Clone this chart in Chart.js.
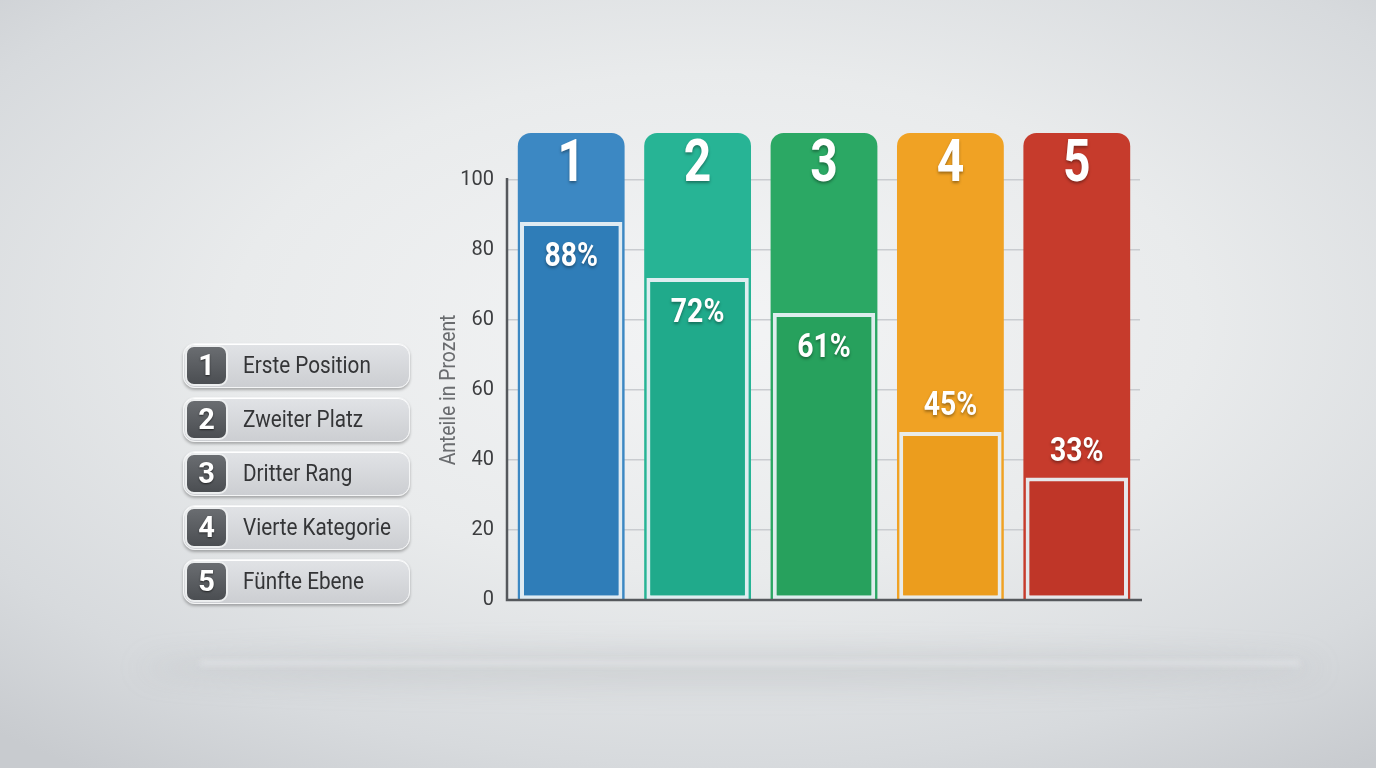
<!DOCTYPE html>
<html>
<head>
<meta charset="utf-8">
<script src="https://cdn.jsdelivr.net/npm/chart.js@4.4.1/dist/chart.umd.min.js"></script>
<style>
  html, body { margin: 0; padding: 0; }
  body {
    width: 1376px; height: 768px; overflow: hidden; position: relative;
    background: radial-gradient(ellipse 78% 72% at 52% 42%, #f3f4f5 0%, #e9ebec 45%, #d7dadd 80%, #c8cbcf 100%);
    font-family: 'Roboto', sans-serif;
  }
  .floor {
    position: absolute; left: 140px; top: 650px; width: 1180px; height: 36px;
    background: rgba(150,155,160,0.22); filter: blur(14px); border-radius: 50%;
  }
  .floorline {
    position: absolute; left: 200px; top: 661px; width: 1100px; height: 4px;
    background: rgba(248,249,250,0.45); filter: blur(3px);
  }
  #chart { position: absolute; left: 0; top: 0; }
  #legend { position: absolute; left: 183px; top: 343px; }
  .item {
    position: relative; width: 227px; height: 45px; margin-bottom: 9px; box-sizing: border-box;
    border-radius: 12px; border: 1px solid #f4f5f6;
    background: linear-gradient(#e1e3e6, #ccced2);
    box-shadow: 0 2px 3px rgba(0,0,0,0.28), inset 0 1px 0 #ffffff;
  }
  .num {
    position: absolute; left: 1px; top: 1px; width: 43px; height: 41px; box-sizing: border-box;
    border-radius: 9px; border: 2px solid #eceeef;
    background: linear-gradient(#6a6d71, #4b4e52);
    color: #fff; font-weight: bold; font-size: 29px; line-height: 37px; text-align: center;
    text-shadow: 0 1px 2px rgba(0,0,0,0.6);
  }
  .txt {
    position: absolute; left: 59px; top: 0; line-height: 43px; white-space: nowrap;
    font-size: 23px; color: #343537; transform: scaleX(0.9); transform-origin: left center;
  }
</style>
</head>
<body>
<div class="floor"></div>
<div class="floorline"></div>
<canvas id="chart" width="1376" height="768"></canvas>
<div id="legend"></div>
<script>
// categories and printed values
const categories = ['Erste Position', 'Zweiter Platz', 'Dritter Rang', 'Vierte Kategorie', 'Fünfte Ebene'];
const ranks = ['1', '2', '3', '4', '5'];
const shareLabels = [88, 72, 61, 45, 33];
// bar heights as drawn against the gridlines (one grid step = 20)
const barHeights = [108, 92, 82, 48, 35];
// printed tick labels, bottom to top
const tickValues = [0, 20, 40, 60, 80, 100, 120];
const tickLabels = ['0', '20', '40', '60', '60', '80', '100'];
const columnTop = 133.4;

const columnColors = ['#3c88c3', '#27b495', '#2ba864', '#f0a224', '#c63b2c'];
const innerColors = ['#2f7db8', '#20aa8b', '#27a15d', '#ec9d1d', '#bf3628'];

// left legend
const legend = document.getElementById('legend');
categories.forEach((name, i) => {
    const item = document.createElement('div');
    item.className = 'item';
    item.innerHTML = '<div class="num">' + ranks[i] + '</div><div class="txt">' + name + '</div>';
    legend.appendChild(item);
});

// condensed text on canvas: squeeze horizontally around (x, y)
function narrowText(ctx, text, x, y, font, squeeze) {
    ctx.save();
    ctx.font = font;
    ctx.translate(x, y);
    ctx.scale(squeeze, 1);
    ctx.fillText(text, 0, 0);
    ctx.restore();
}

// numbers on the columns, percentages on the bars, axis lines and title
const barLabels = {
    id: 'barLabels',
    afterDatasetsDraw(chart) {
        const ctx = chart.ctx;
        const cols = chart.getDatasetMeta(0).data;
        const bars = chart.getDatasetMeta(1).data;
        const area = chart.chartArea;
        const yScale = chart.scales.y;
        const top = yScale.getPixelForValue(tickValues[tickValues.length - 1]);
        const bottom = yScale.getPixelForValue(0);

        ctx.save();
        ctx.strokeStyle = '#55585c';
        ctx.lineWidth = 2.5;
        ctx.beginPath();
        ctx.moveTo(area.left - 1, top - 2);
        ctx.lineTo(area.left - 1, bottom);
        ctx.lineTo(area.right + 2, bottom);
        ctx.stroke();
        ctx.restore();

        ctx.save();
        ctx.textAlign = 'center';
        ctx.textBaseline = 'middle';
        ctx.fillStyle = '#ffffff';
        ctx.shadowColor = 'rgba(0,0,0,0.35)';
        ctx.shadowBlur = 3;
        ctx.shadowOffsetY = 2;
        cols.forEach((c, i) => {
            narrowText(ctx, ranks[i], c.x, area.top + 33, "bold 60px 'Roboto', sans-serif", 0.8);
        });
        bars.forEach((b, i) => {
            const y = shareLabels[i] >= 50 ? b.y + 36 : b.y - 25;
            narrowText(ctx, shareLabels[i] + '%', b.x, y, "bold 33px 'Roboto', sans-serif", 0.86);
        });
        ctx.restore();

        // axis title, centred on the ticked range
        ctx.save();
        ctx.fillStyle = '#6a6c6f';
        ctx.textAlign = 'center';
        ctx.textBaseline = 'middle';
        ctx.translate(449, (top + bottom) / 2);
        ctx.rotate(-Math.PI / 2);
        ctx.scale(0.88, 1);
        ctx.font = "22px 'Roboto', sans-serif";
        ctx.fillText('Anteile in Prozent', 0, 0);
        ctx.restore();
    }
};

new Chart(document.getElementById('chart'), {
    type: 'bar',
    data: {
        labels: categories,
        datasets: [
            {
                data: categories.map(() => columnTop),
                backgroundColor: columnColors,
                borderRadius: { topLeft: 13, topRight: 13 },
                borderSkipped: 'bottom',
                barPercentage: 0.845,
                categoryPercentage: 1,
                grouped: false,
                order: 2
            },
            {
                data: barHeights,
                backgroundColor: innerColors,
                borderColor: 'rgba(232,240,244,0.95)',
                borderWidth: 4,
                borderSkipped: false,
                barPercentage: 0.81,
                categoryPercentage: 1,
                grouped: false,
                order: 1
            }
        ]
    },
    options: {
        responsive: false,
        animation: false,
        layout: { padding: { left: 430, right: 236, top: 133, bottom: 168 } },
        plugins: { legend: { display: false }, tooltip: { enabled: false } },
        scales: {
            x: {
                grid: { display: false },
                border: { display: false },
                ticks: { display: false },
                afterFit(scale) { scale.height = 0; }
            },
            y: {
                min: 0,
                max: columnTop,
                afterBuildTicks(scale) { scale.ticks = tickValues.map(v => ({ value: v })); },
                afterFit(scale) { scale.width = 78; },
                grid: { color: '#c9ccd0', lineWidth: 1.5, drawTicks: false },
                border: { display: false },
                ticks: {
                    padding: 14,
                    color: '#3d3e40',
                    font: { family: "'Roboto', sans-serif", size: 20 },
                    callback: (v, i) => tickLabels[i]
                }
            }
        }
    },
    plugins: [barLabels]
});
</script>
</body>
</html>
